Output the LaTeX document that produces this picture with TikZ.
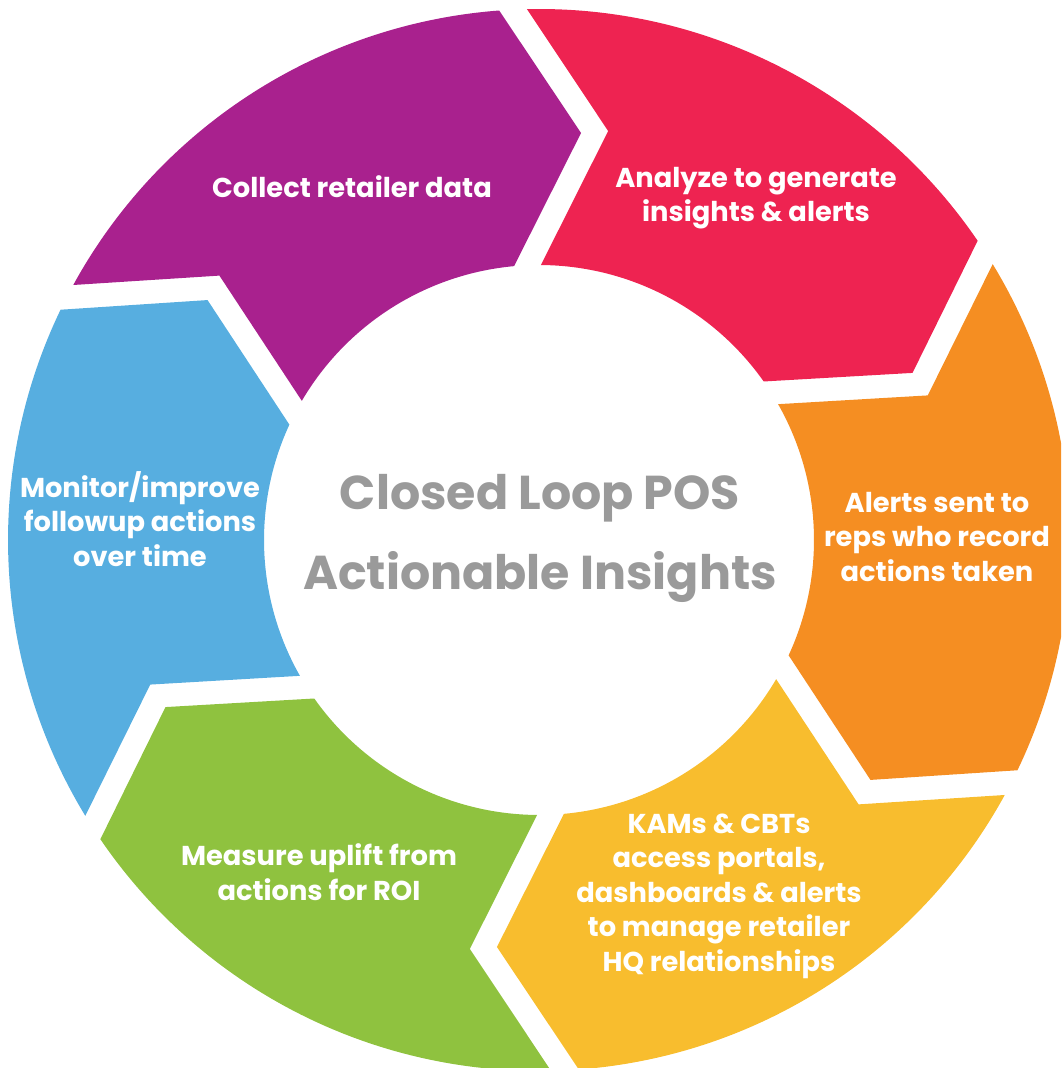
\documentclass[tikz,border=0pt]{standalone}
\usepackage{fontspec}
\setmainfont{Poppins}
\definecolor{cpurple}{HTML}{A9218E}
\definecolor{cred}{HTML}{EE2351}
\definecolor{corange}{HTML}{F58E22}
\definecolor{cyellow}{HTML}{F8BD2E}
\definecolor{cgreen}{HTML}{8FC23F}
\definecolor{cblue}{HTML}{57AEE0}
\definecolor{cgray}{HTML}{9A9A9A}
\begin{document}
\begin{tikzpicture}[x=1pt,y=1pt,
  lab/.style={text=white, font=\bfseries\fontsize{27.3}{34.5}\selectfont, align=center, inner sep=0pt},
  ttl/.style={text=cgray, font=\bfseries\fontsize{47.5}{80}\selectfont, align=center, inner sep=0pt}]
\useasboundingbox (0,0) rectangle (1061,1068);
\coordinate (C) at (539,528);
\begin{scope}
\clip (0,0) rectangle (1061,1068);
\foreach \a/\c in {0/cpurple, -60/cred, -120/corange, -180/cyellow, -240/cgreen, -300/cblue}{
  \begin{scope}[shift={(C)}, rotate=\a]
  \fill[\c] (151.3:531) arc[start angle=151.3, end angle=94.3, radius=531]
     -- (84.1:409.2) -- (95.2:275)
     arc[start angle=95.2, end angle=149.6, radius=275]
     -- (140.4:414.8) -- cycle;
  \end{scope}
}
\end{scope}
\node[lab] (collect) at (352,881) {Collect retailer data};
\node[lab] (analyze) at (756,870) {Analyze to generate\\insights \& alerts};
\node[lab] (alerts) at (937,531) {Alerts sent to\\reps who record\\actions taken};
\node[lab] (kams) at (719,172) {KAMs \& CBTs\\access portals,\\dashboards \& alerts\\to manage retailer\\HQ relationships};
\node[lab] (measure) at (319,196) {Measure uplift from\\actions for ROI};
\node[lab] (monitor) at (140,549) {Monitor/improve\\followup actions\\over time};
\node[ttl] (title) at (540,530) {Closed Loop POS\\Actionable Insights};
\end{tikzpicture}
\end{document}
